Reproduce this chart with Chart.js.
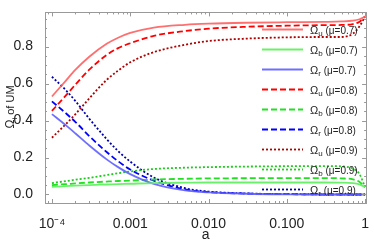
<!DOCTYPE html>
<html>
<head>
<meta charset="utf-8">
<script src="https://cdn.jsdelivr.net/npm/chart.js@4"></script>
<style>
  body { margin: 0; background: #fff; }
  canvas { display: block; }
</style>
</head>
<body>
<canvas id="chart" width="374" height="247"></canvas>
<script>
// scale factor a (x) and the three density fractions for each mu
var aVals = [1e-4, 1.5e-4, 2e-4, 3e-4, 5e-4, 7e-4, 1e-3, 2e-3, 5e-3, 1e-2, 3e-2, 0.1, 0.3, 0.5, 0.7, 0.85, 1];

var u07 = [0.530, 0.615, 0.675, 0.745, 0.815, 0.848, 0.874, 0.903, 0.918, 0.924, 0.929, 0.932, 0.934, 0.936, 0.940, 0.948, 0.963];
var b07 = [0.041, 0.045, 0.048, 0.051, 0.054, 0.056, 0.058, 0.062, 0.064, 0.065, 0.065, 0.065, 0.065, 0.064, 0.062, 0.055, 0.040];
var r07 = [0.435, 0.375, 0.330, 0.265, 0.190, 0.148, 0.110, 0.057, 0.022, 0.011, 0.004, 0.001, 0.000, 0.000, 0.000, 0.000, 0.000];

var u08 = [0.452, 0.535, 0.595, 0.675, 0.755, 0.792, 0.818, 0.858, 0.884, 0.897, 0.907, 0.913, 0.916, 0.917, 0.922, 0.935, 0.963];
var b08 = [0.051, 0.056, 0.060, 0.065, 0.070, 0.073, 0.075, 0.081, 0.085, 0.087, 0.088, 0.089, 0.089, 0.087, 0.082, 0.068, 0.040];
var r08 = [0.504, 0.440, 0.392, 0.316, 0.230, 0.180, 0.135, 0.075, 0.027, 0.013, 0.005, 0.002, 0.000, 0.000, 0.000, 0.000, 0.000];

var u09 = [0.307, 0.380, 0.435, 0.520, 0.620, 0.670, 0.715, 0.770, 0.810, 0.830, 0.843, 0.850, 0.852, 0.852, 0.870, 0.910, 0.963];
var b09 = [0.062, 0.072, 0.080, 0.090, 0.105, 0.115, 0.125, 0.138, 0.145, 0.148, 0.151, 0.153, 0.154, 0.152, 0.140, 0.110, 0.040];
var r09 = [0.637, 0.565, 0.505, 0.410, 0.300, 0.235, 0.178, 0.092, 0.034, 0.016, 0.006, 0.002, 0.001, 0.000, 0.000, 0.000, 0.000];

var xTicks = [1e-4, 1e-3, 1e-2, 1e-1, 1];
var xTickLabels = ['10\u207B\u2074', '0.001', '0.010', '0.100', '1'];
var yTicks = [0, 0.2, 0.4, 0.6, 0.8];

var FONT = "'Liberation Sans', Arial, sans-serif";

function pts(vals) {
  return aVals.map(function (a, i) { return { x: a, y: vals[i] }; });
}

// legend entries: subscript, mu, line style
var series = [
  { sub: 'u', mu: '0.7', data: u07, color: 'rgba(255,95,95,0.9)', dash: [] },
  { sub: 'b', mu: '0.7', data: b07, color: 'rgba(90,240,90,0.9)', dash: [] },
  { sub: 'r', mu: '0.7', data: r07, color: 'rgba(95,95,255,0.9)', dash: [] },
  { sub: 'u', mu: '0.8', data: u08, color: '#ff0000', dash: [6, 3] },
  { sub: 'b', mu: '0.8', data: b08, color: '#22e022', dash: [6, 3] },
  { sub: 'r', mu: '0.8', data: r08, color: '#0000ff', dash: [6, 3] },
  { sub: 'u', mu: '0.9', data: u09, color: '#b00000', dash: [2, 2] },
  { sub: 'b', mu: '0.9', data: b09, color: '#1ccc1c', dash: [2, 2] },
  { sub: 'r', mu: '0.9', data: r09, color: '#0000b0', dash: [2, 2] }
];

var datasets = series.map(function (s) {
  return {
    label: '\u03A9' + s.sub + ' (\u03BC=' + s.mu + ')',
    data: pts(s.data),
    borderColor: s.color,
    borderDash: s.dash,
    borderWidth: 1.8,
    pointRadius: 0,
    fill: false,
    cubicInterpolationMode: 'monotone'
  };
});

// frame with inward ticks, legend with subscripts, y title with subscript
var decor = {
  id: 'decor',
  afterDatasetsDraw: function (chart) {
    var ctx = chart.ctx;
    var ca = chart.chartArea;
    var xs = chart.scales.x, ys = chart.scales.y;
    ctx.save();
    ctx.strokeStyle = '#999';
    ctx.lineWidth = 1;
    ctx.setLineDash([]);
    ctx.strokeRect(Math.round(ca.left) + 0.5, Math.round(ca.top) + 0.5,
      Math.round(ca.right - ca.left), Math.round(ca.bottom - ca.top));

    // y ticks on left and right
    ctx.beginPath();
    for (var v = -0.05; v <= 0.98; v += 0.05) {
      var y = Math.round(ys.getPixelForValue(v)) + 0.5;
      if (y < ca.top || y > ca.bottom) continue;
      var major = Math.abs(v * 5 - Math.round(v * 5)) < 1e-6;
      var len = major ? 4 : 2;
      ctx.moveTo(ca.left, y); ctx.lineTo(ca.left + len, y);
      ctx.moveTo(ca.right, y); ctx.lineTo(ca.right - len, y);
    }
    // x ticks on bottom and top
    for (var d = -5; d <= 0; d++) {
      for (var m = 1; m <= 9; m++) {
        var a = m * Math.pow(10, d);
        var x = Math.round(xs.getPixelForValue(a)) + 0.5;
        if (x < ca.left || x > ca.right) continue;
        var l = m === 1 ? 4 : 2;
        ctx.moveTo(x, ca.bottom); ctx.lineTo(x, ca.bottom - l);
        ctx.moveTo(x, ca.top); ctx.lineTo(x, ca.top + l);
      }
    }
    ctx.stroke();

    // legend
    var lx0 = 262, lx1 = 303, tx = 310, ly = 29.5;
    chart.data.datasets.forEach(function (ds, i) {
      var s = series[i];
      var y = ly + i * 20;
      ctx.strokeStyle = ds.borderColor;
      ctx.lineWidth = 1.8;
      ctx.setLineDash(ds.borderDash);
      ctx.beginPath();
      ctx.moveTo(lx0, y); ctx.lineTo(lx1, y);
      ctx.stroke();
      ctx.setLineDash([]);
      ctx.fillStyle = '#222';
      ctx.textBaseline = 'alphabetic';
      ctx.textAlign = 'left';
      ctx.font = '11px ' + FONT;
      ctx.fillText('\u03A9', tx, y + 4);
      var w = ctx.measureText('\u03A9').width;
      ctx.font = '8px ' + FONT;
      ctx.fillText(s.sub, tx + w, y + 6.5);
      var w2 = ctx.measureText(s.sub).width;
      ctx.font = '10px ' + FONT;
      ctx.fillText(' (\u03BC=' + s.mu + ')', tx + w + w2, y + 4);
    });

    // y axis title
    ctx.translate(14, 107);
    ctx.rotate(-Math.PI / 2);
    ctx.fillStyle = '#222';
    ctx.textBaseline = 'alphabetic';
    ctx.textAlign = 'left';
    var p1 = '\u03A9', p3 = ' of UM';
    ctx.font = '12px ' + FONT;
    var w1 = ctx.measureText(p1).width;
    ctx.font = '8px ' + FONT;
    var ws = ctx.measureText('i').width;
    ctx.font = '11px ' + FONT;
    var w3 = ctx.measureText(p3).width;
    var start = -(w1 + ws + w3) / 2;
    ctx.font = '12px ' + FONT;
    ctx.fillText(p1, start, 0);
    ctx.font = '8px ' + FONT;
    ctx.fillText('i', start + w1, 2.5);
    ctx.font = '11px ' + FONT;
    ctx.fillText(p3, start + w1 + ws, 0);
    ctx.restore();
  }
};

var chart = new Chart(document.getElementById('chart'), {
  type: 'line',
  data: { datasets: datasets },
  options: {
    responsive: false,
    animation: false,
    layout: { padding: { top: 4, right: 5, left: 0, bottom: 0 } },
    plugins: { legend: { display: false }, tooltip: { enabled: false } },
    scales: {
      x: {
        type: 'logarithmic',
        min: 8.156e-5,
        max: 1.03,
        grid: { display: false },
        border: { display: false },
        afterBuildTicks: function (scale) {
          scale.ticks = xTicks.map(function (v) { return { value: v }; });
        },
        afterFit: function (scale) { scale.height = 44; },
        ticks: {
          autoSkip: false,
          maxRotation: 0,
          padding: 5,
          color: '#222',
          font: { family: FONT, size: 14 },
          callback: function (v) {
            var i = xTicks.indexOf(v);
            return i >= 0 ? xTickLabels[i] : '';
          }
        },
        title: {
          display: true,
          text: 'a',
          color: '#222',
          font: { family: FONT, size: 14 },
          padding: { top: 2, bottom: 3 }
        }
      },
      y: {
        min: -0.046,
        max: 0.985,
        grid: { display: false },
        border: { display: false },
        afterBuildTicks: function (scale) {
          scale.ticks = yTicks.map(function (v) { return { value: v }; });
        },
        afterFit: function (scale) { scale.width = 45; },
        ticks: {
          padding: 4,
          color: '#222',
          font: { family: FONT, size: 14 },
          callback: function (v) { return v.toFixed(1); }
        }
      }
    }
  },
  plugins: [decor]
});
</script>
</body>
</html>
